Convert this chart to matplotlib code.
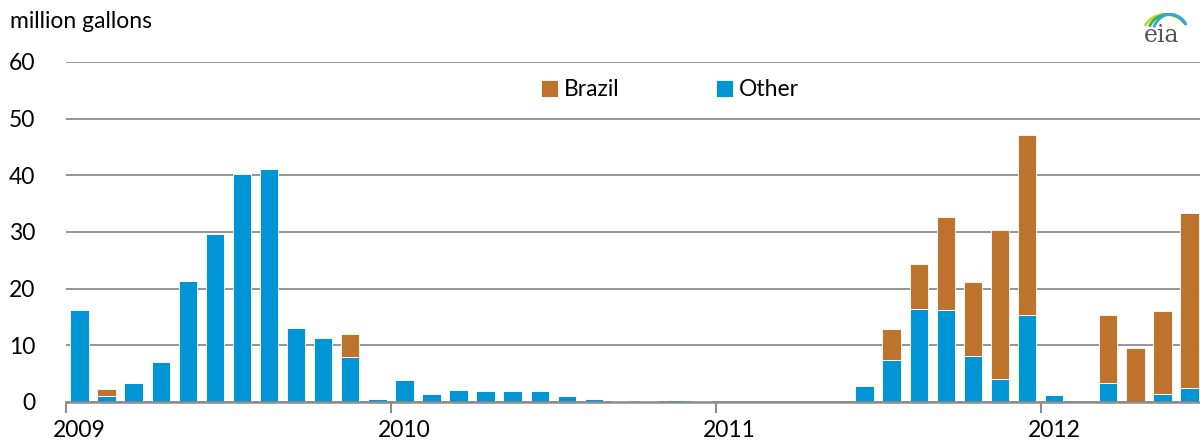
import numpy as np
import matplotlib.pyplot as plt
from matplotlib.patches import Arc

plt.rcParams['font.family'] = ['Lato', 'DejaVu Sans']

# monthly values, Jan 2009 - Jun 2012 (million gallons)
other = [16.2, 1.1, 3.3, 7.0, 21.3, 29.6, 40.3, 41.2, 13.0, 11.3, 7.9, 0.5,
         3.8, 1.5, 2.1, 1.9, 1.9, 1.9, 1.0, 0.5, 0.1, 0.1, 0.3, 0.2,
         0.05, 0, 0, 0, 0, 2.9, 7.5, 16.4, 16.2, 8.2, 4.0, 15.4,
         1.2, 0, 3.4, 0, 1.4, 2.5]
brazil = [0, 1.2, 0, 0, 0, 0, 0, 0, 0, 0, 4.1, 0,
          0, 0, 0, 0, 0, 0, 0, 0, 0, 0, 0, 0,
          0, 0, 0, 0, 0, 0, 5.3, 8.0, 16.5, 13.0, 26.3, 31.7,
          0, 0, 11.9, 9.5, 14.7, 30.9]
years = ["2009", "2010", "2011", "2012"]

blue = "#0096d6"
brown = "#bd732b"

fig = plt.figure(figsize=(12, 4.47), dpi=100)
ax = fig.add_axes([66/1200, 45/447, 1137/1200, 340/447])

x = np.arange(len(other)) + 0.5
ax.bar(x, other, width=0.68, color=blue, edgecolor="white", linewidth=0.6, label="Other", zorder=3)
ax.bar(x, brazil, width=0.68, bottom=other, color=brown, edgecolor="white", linewidth=0.6, label="Brazil", zorder=3)

ax.set_xlim(0, 42)
ax.set_ylim(0, 60)
ax.set_yticks(range(0, 61, 10))
ax.tick_params(axis="y", length=0, labelsize=16.5, pad=22)
ax.grid(axis="y", color="#8c8c8c", linewidth=1.3, zorder=0)

# year boundaries get tick marks, labels sit under the January bars
ax.set_xticks([0, 12, 24, 36], minor=True)
ax.set_xticks([0.5, 12.5, 24.5, 36.5])
ax.set_xticklabels(years)
ax.tick_params(axis="x", which="major", length=0, labelsize=16.5, pad=13)
ax.tick_params(axis="x", which="minor", length=8, width=1.5, color="#8c8c8c")

for s in ["top", "right", "left"]:
    ax.spines[s].set_visible(False)
ax.spines["bottom"].set_color("#8c8c8c")
ax.spines["bottom"].set_linewidth(1.8)
ax.spines["bottom"].set_zorder(4)

h, l = ax.get_legend_handles_labels()
ax.legend(h[::-1], l[::-1], ncol=2, loc="center", bbox_to_anchor=(670/1200, 1 - 90/447),
          bbox_transform=fig.transFigure, frameon=False, fontsize=16.5,
          handlelength=0.75, handleheight=0.75, handletextpad=0.25, columnspacing=4.2)

fig.text(10/1200, 1 - 22/447, "million gallons", fontsize=16.5, va="center", ha="left")

# small eia mark
fig.text(1162/1200, 1 - 35/447, "eia", fontsize=17, family="DejaVu Serif", color="#555555",
         ha="center", va="center")
lax = fig.add_axes([1138/1200, 1 - 40/447, 50/1200, 32/447])
lax.set_xlim(0, 1)
lax.set_ylim(0, 1)
lax.axis("off")
for w, c, off in [(0.9, "#c8d630", 0.0), (0.8, "#3ab54a", 0.05), (0.7, "#29a9e0", 0.1)]:
    lax.add_patch(Arc((0.55 + off, 0.2), w, 1.2, theta1=40, theta2=150, color=c, lw=2))

fig.savefig("out.png", dpi=100)
